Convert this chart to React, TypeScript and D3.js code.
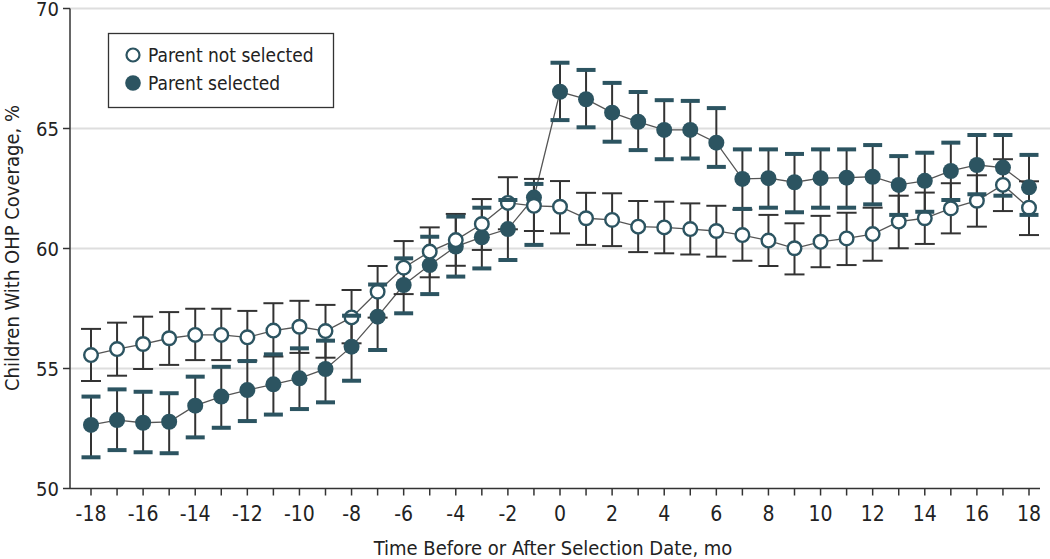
import React from "react";
import * as d3 from "d3";

const months = d3.range(-18, 19);

const notSelected = [55.56, 55.81, 56.02, 56.26, 56.40, 56.40, 56.30, 56.58, 56.74, 56.56, 57.13, 58.20, 59.20, 59.87, 60.35, 61.02, 61.90, 61.78, 61.74, 61.26, 61.19, 60.91, 60.88, 60.81, 60.73, 60.56, 60.33, 60.01, 60.28, 60.42, 60.60, 61.12, 61.26, 61.67, 61.99, 62.65, 61.70];
const notSelectedLow = [54.48, 54.70, 54.98, 55.15, 55.35, 55.35, 55.33, 55.50, 55.65, 55.45, 56.05, 57.12, 58.10, 58.80, 59.28, 59.94, 60.80, 60.73, 60.63, 60.15, 60.10, 59.85, 59.80, 59.75, 59.66, 59.49, 59.27, 58.92, 59.22, 59.31, 59.49, 60.01, 60.19, 60.63, 60.91, 61.56, 60.56];
const notSelectedHigh = [56.65, 56.91, 57.16, 57.35, 57.49, 57.49, 57.40, 57.72, 57.82, 57.65, 58.27, 59.27, 60.31, 60.88, 61.44, 62.06, 62.97, 62.90, 62.81, 62.32, 62.30, 61.98, 61.95, 61.88, 61.78, 61.62, 61.40, 61.05, 61.36, 61.49, 61.70, 62.20, 62.33, 62.72, 63.05, 63.72, 62.80];

const selected = [52.65, 52.85, 52.74, 52.78, 53.45, 53.83, 54.10, 54.34, 54.59, 54.98, 55.91, 57.16, 58.48, 59.31, 60.08, 60.47, 60.81, 62.12, 66.53, 66.22, 65.66, 65.28, 64.94, 64.94, 64.41, 62.90, 62.93, 62.76, 62.93, 62.95, 62.99, 62.65, 62.82, 63.23, 63.48, 63.37, 62.55];
const selectedLow = [51.30, 51.60, 51.51, 51.47, 52.13, 52.53, 52.81, 53.08, 53.31, 53.59, 54.49, 55.77, 57.30, 58.10, 58.83, 59.17, 59.52, 60.15, 65.35, 65.05, 64.45, 64.10, 63.72, 63.75, 63.40, 61.65, 61.70, 61.51, 61.70, 61.70, 61.84, 61.40, 61.53, 62.02, 62.26, 62.20, 61.40];
const selectedHigh = [53.83, 54.13, 54.03, 53.97, 54.66, 55.07, 55.31, 55.59, 55.84, 56.16, 57.20, 58.50, 59.59, 60.49, 61.33, 61.70, 62.02, 62.69, 67.74, 67.44, 66.90, 66.52, 66.18, 66.15, 65.85, 64.13, 64.13, 63.94, 64.13, 64.13, 64.31, 63.85, 63.99, 64.41, 64.73, 64.73, 63.90];

const yTicks = [50, 55, 60, 65, 70];
const xTickLabels = d3.range(-18, 19, 2);
const legendLabels = ["Parent not selected", "Parent selected"];
const xTitle = "Time Before or After Selection Date, mo";
const yTitle = "Children With OHP Coverage, %";

const W = 1050;
const H = 559;
const TEAL = "#2c5461";
const INK = "#333333";
const FONT = "'Liberation Sans Narrow', 'DejaVu Sans Condensed', 'Arial Narrow', sans-serif";

export default function App() {
  const x = d3.scaleLinear().domain([-18, 18]).range([91, 1029]);
  const y = d3.scaleLinear().domain([50, 70]).range([488.5, 8.5]);
  const axisX = 70;
  const line = d3
    .line<number>()
    .x((_, i) => x(months[i]))
    .y((d) => y(d));

  const capThin = 10;
  const capThick = 9.5;

  return (
    <svg
      width={W}
      height={H}
      style={{ position: "absolute", left: 0, top: 0, background: "#fff" }}
      fontFamily={FONT}
    >
      {/* gridlines */}
      {yTicks.slice(1).map((t) => (
        <line key={"g" + t} x1={axisX} x2={W} y1={y(t)} y2={y(t)} stroke="#dedede" strokeWidth={2} />
      ))}
      {/* axes */}
      <line x1={axisX} x2={axisX} y1={y(70)} y2={y(50)} stroke={INK} strokeWidth={1.5} />
      <line x1={axisX} x2={1040} y1={y(50)} y2={y(50)} stroke={INK} strokeWidth={1.5} />
      {yTicks.map((t) => (
        <g key={"yt" + t}>
          <line x1={axisX - 7} x2={axisX} y1={y(t)} y2={y(t)} stroke={INK} strokeWidth={1.5} />
          <text x={axisX - 11} y={Math.max(y(t) + 7, 16)} textAnchor="end" fontSize={20} fill="#222">
            {t}
          </text>
        </g>
      ))}
      {months.map((m) => (
        <line key={"xt" + m} x1={x(m)} x2={x(m)} y1={y(50)} y2={y(50) + 7} stroke={INK} strokeWidth={1.5} />
      ))}
      {xTickLabels.map((m) => (
        <text key={"xl" + m} x={x(m)} y={521} textAnchor="middle" fontSize={21} fill="#222">
          {m}
        </text>
      ))}
      <text x={553} y={555} textAnchor="middle" fontSize={20} fill="#222">
        {xTitle}
      </text>
      <text
        transform={`translate(19, 248) rotate(-90)`}
        textAnchor="middle"
        fontSize={20}
        fill="#222"
      >
        {yTitle}
      </text>

      {/* connecting lines */}
      <path d={line(notSelected) || ""} fill="none" stroke="#555" strokeWidth={1.3} />
      <path d={line(selected) || ""} fill="none" stroke="#555" strokeWidth={1.3} />

      {/* not selected error bars */}
      {months.map((m, i) => (
        <g key={"ne" + m} stroke={INK} strokeWidth={2}>
          <line x1={x(m)} x2={x(m)} y1={y(notSelectedLow[i])} y2={y(notSelectedHigh[i])} />
          <line x1={x(m) - capThin} x2={x(m) + capThin} y1={y(notSelectedLow[i])} y2={y(notSelectedLow[i])} />
          <line x1={x(m) - capThin} x2={x(m) + capThin} y1={y(notSelectedHigh[i])} y2={y(notSelectedHigh[i])} />
        </g>
      ))}
      {/* selected error verticals */}
      {months.map((m, i) => (
        <line
          key={"se" + m}
          x1={x(m)}
          x2={x(m)}
          y1={y(selectedLow[i])}
          y2={y(selectedHigh[i])}
          stroke={INK}
          strokeWidth={2}
        />
      ))}
      {/* selected points */}
      {months.map((m, i) => (
        <circle key={"sp" + m} cx={x(m)} cy={y(selected[i])} r={8} fill={TEAL} />
      ))}
      {/* not selected points */}
      {months.map((m, i) => (
        <circle
          key={"np" + m}
          cx={x(m)}
          cy={y(notSelected[i])}
          r={6.8}
          fill="#fff"
          stroke={TEAL}
          strokeWidth={2.4}
        />
      ))}
      {/* selected caps */}
      {months.map((m, i) => (
        <g key={"sc" + m} stroke={TEAL} strokeWidth={4}>
          <line x1={x(m) - capThick} x2={x(m) + capThick} y1={y(selectedLow[i])} y2={y(selectedLow[i])} />
          <line x1={x(m) - capThick} x2={x(m) + capThick} y1={y(selectedHigh[i])} y2={y(selectedHigh[i])} />
        </g>
      ))}

      {/* legend */}
      <rect x={108.5} y={33.5} width={225} height={74} fill="#fff" stroke={INK} strokeWidth={1.3} />
      <circle cx={133} cy={55} r={6.5} fill="#fff" stroke={TEAL} strokeWidth={2.2} />
      <circle cx={133} cy={83} r={7.8} fill={TEAL} />
      <text x={148} y={55} dy="0.35em" fontSize={19} fill="#222">
        {legendLabels[0]}
      </text>
      <text x={148} y={83} dy="0.35em" fontSize={19} fill="#222">
        {legendLabels[1]}
      </text>
    </svg>
  );
}
